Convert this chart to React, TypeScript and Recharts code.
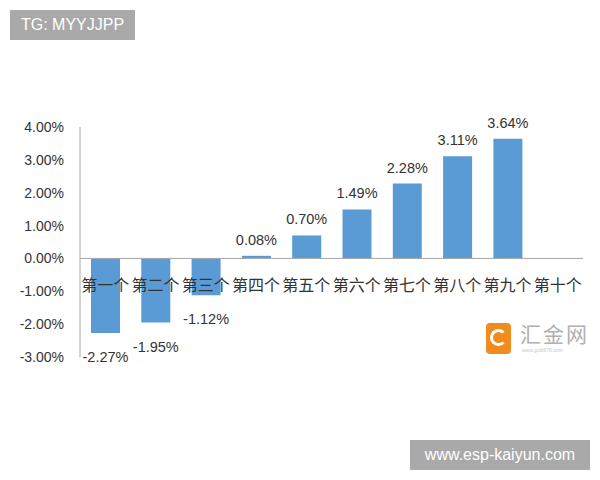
import React from 'react';
import { ComposedChart, Bar, Line, XAxis, YAxis, ReferenceLine, LabelList } from 'recharts';

const categories = ['第一个', '第二个', '第三个', '第四个', '第五个', '第六个', '第七个', '第八个', '第九个', '第十个'];
const values: (number | null)[] = [-2.27, -1.95, -1.12, 0.08, 0.7, 1.49, 2.28, 3.11, 3.64, null];
const yTicks = [-3, -2, -1, 0, 1, 2, 3, 4];

const data = categories.map((name, i) => ({ name, value: values[i], zero: 0 }));

const fmt = (v: any) => (v === null || v === undefined ? '' : `${Number(v).toFixed(2)}%`);

const NUM_FONT = '"Liberation Sans", Arial, "Noto Sans CJK SC", sans-serif';
const CJK_FONT = '"Noto Sans CJK SC", "Noto Sans", sans-serif';

const ValueLabel = (props: any) => {
  const { x, y, width, height, value } = props;
  if (value === null || value === undefined) return null;
  const a = Number(y);
  const b = Number(y) + Number(height);
  const top = Math.min(a, b);
  const bottom = Math.max(a, b);
  const cx = Number(x) + Number(width) / 2;
  const ty = value >= 0 ? top - 11 : bottom + 29;
  return (
    <text x={cx} y={ty} textAnchor="middle" fill="#333" fontSize={14.5} fontFamily={NUM_FONT}>
      {fmt(value)}
    </text>
  );
};

export default function App() {
  return (
    <div style={{ position: 'fixed', left: 0, top: 0, width: 600, height: 480, background: '#fff', overflow: 'hidden' }}>
      <ComposedChart width={600} height={480} data={data} margin={{ top: 127, right: 17, bottom: 123, left: 0 }}>
        <XAxis dataKey="name" hide />
        <YAxis
          width={80}
          domain={[-3, 4]}
          ticks={yTicks}
          interval={0}
          tickFormatter={fmt}
          axisLine={{ stroke: '#a6a6a6', strokeWidth: 1 }}
          tickLine={false}
          tickMargin={10}
          tick={{ fill: '#333', fontSize: 14, fontFamily: NUM_FONT }}
        />
        <ReferenceLine y={0} stroke="#a6a6a6" strokeWidth={1} />
        <Bar dataKey="value" fill="#5b9bd5" barSize={29} isAnimationActive={false}>
          <LabelList dataKey="value" content={ValueLabel} />
        </Bar>
        <Line dataKey="zero" stroke="none" dot={false} activeDot={false} isAnimationActive={false} legendType="none">
          <LabelList dataKey="name" position="bottom" offset={21} fill="#333" fontSize={16} fontFamily={CJK_FONT} />
        </Line>
      </ComposedChart>

      <div style={{ position: 'absolute', left: 10, top: 10, width: 125, height: 30, background: '#a9a9a9', color: '#fff', fontFamily: NUM_FONT, fontSize: 16, lineHeight: '30px', textAlign: 'center' }}>
        TG: MYYJJPP
      </div>

      <div style={{ position: 'absolute', left: 486, top: 323, width: 25, height: 31, background: '#f08c1e', borderRadius: 4 }}>
        <div style={{ position: 'absolute', left: 4, top: 6, width: 17, height: 17, borderRadius: '50%', border: '3px solid #fff', borderRightColor: 'transparent', boxSizing: 'border-box' }} />
      </div>
      <div style={{ position: 'absolute', left: 520, top: 320, color: '#b0b0b0', fontFamily: CJK_FONT, fontSize: 21, lineHeight: '26px', letterSpacing: 2 }}>汇金网</div>
      <div style={{ position: 'absolute', left: 522, top: 347, color: '#c8c8c8', fontFamily: NUM_FONT, fontSize: 5, lineHeight: '6px' }}>www.gold678.com</div>

      <div style={{ position: 'absolute', left: 410, top: 440, width: 180, height: 30, background: '#a9a9a9', color: '#fff', fontFamily: NUM_FONT, fontSize: 16, lineHeight: '30px', textAlign: 'center' }}>
        www.esp-kaiyun.com
      </div>
    </div>
  );
}
